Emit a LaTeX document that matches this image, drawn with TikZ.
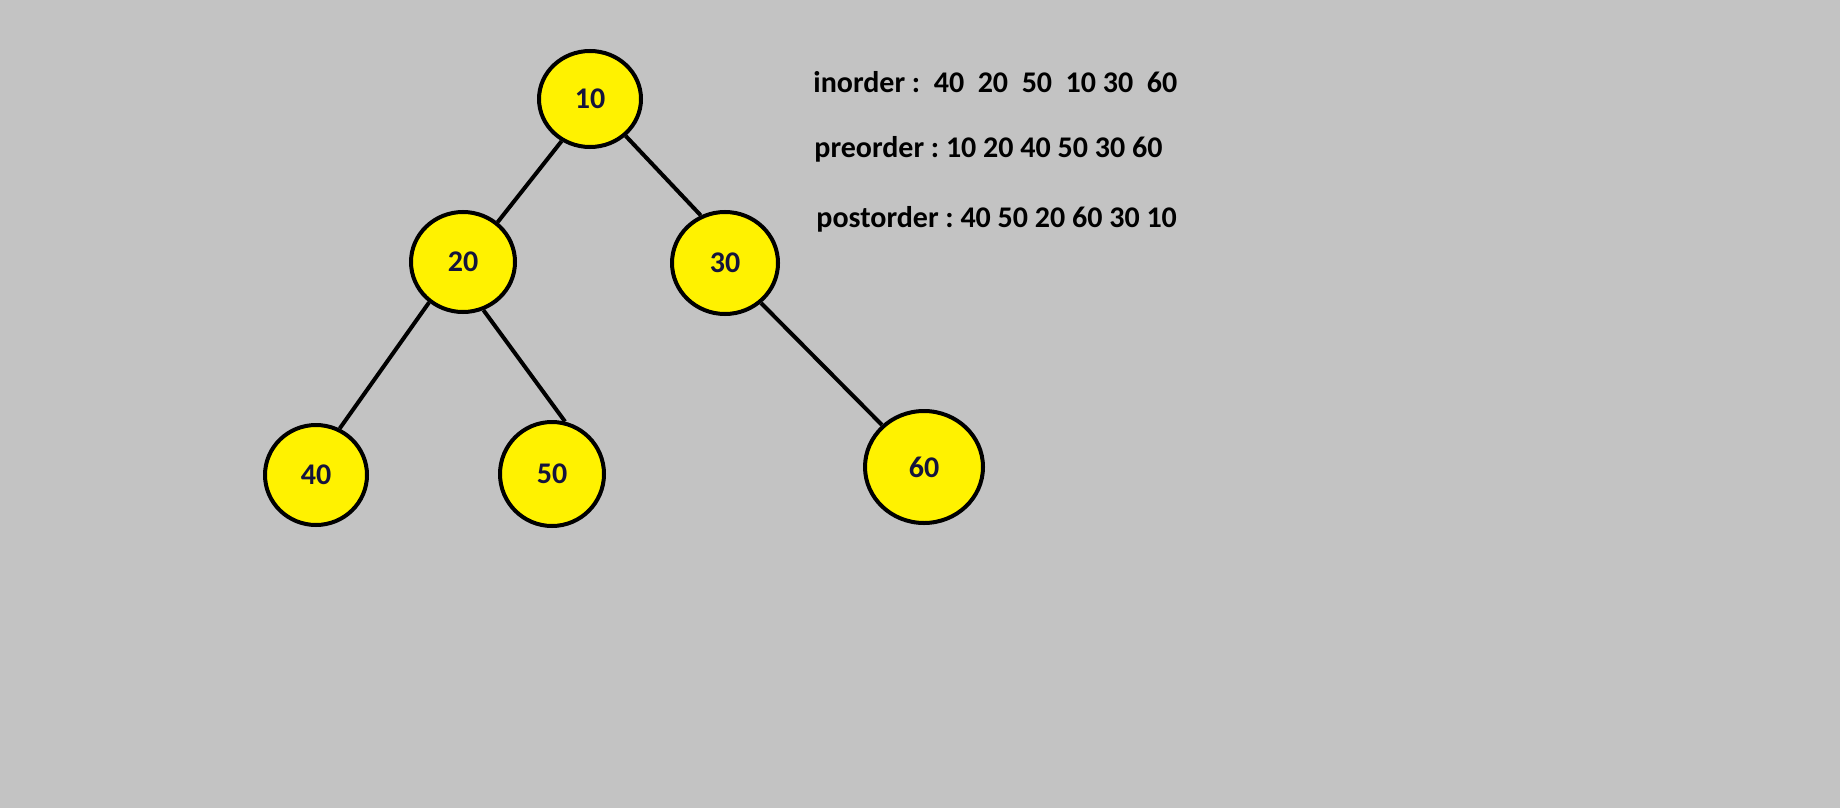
\documentclass[tikz,border=0pt]{standalone}
\usepackage{fontspec}
\setmainfont{Carlito}
\usepackage{tikz}
\usetikzlibrary{shapes.geometric}
\definecolor{canvas}{HTML}{C3C3C3}
\definecolor{nodefill}{HTML}{FFF200}
\definecolor{labelink}{HTML}{14143C}
\frenchspacing

\tikzset{
  treenode/.style={ellipse, draw=black, line width=2pt, fill=nodefill,
    text=labelink, font=\fontsize{15}{18}\selectfont\bfseries,
    minimum width=51pt, minimum height=48pt, inner sep=0pt},
  treeedge/.style={line width=2pt, draw=black},
  ordertext/.style={anchor=base west, inner sep=0pt,
    font=\fontsize{15}{18}\selectfont\bfseries}
}

\begin{document}
\begin{tikzpicture}[x=0.5pt, y=-0.5pt]
\fill[canvas] (0,0) rectangle (1840,808);
\useasboundingbox (0,0) rectangle (1840,808);

% tree
\node[treenode] (n10) at (590,99) {10};
\node[treenode, minimum width=52pt, minimum height=50pt] (n20) at (463,262) {20};
\node[treenode, minimum width=53pt, minimum height=51pt] (n30) at (725,263) {30};
\node[treenode, minimum width=51pt, minimum height=50pt] (n40) at (316,475) {40};
\node[treenode, minimum width=52pt, minimum height=52pt] (n50) at (552,474) {50};
\node[treenode, minimum width=59pt, minimum height=56pt] (n60) at (924,467) {60};

\draw[treeedge] (n10.-124) -- (n20.49);
\draw[treeedge] (n10.-46) -- (n30.117);
\draw[treeedge] (n20.-130) -- (n40.63);
\draw[treeedge] (n20.-67) -- (n50.76);
\draw[treeedge] (n30.-48) -- (n60.135);

% traversals
\node[ordertext] (inorder) at (813,93) {inorder :\ \ 40\ \ 20\ \ 50\ \ 10 30\ \ 60};
\node[ordertext] (preorder) at (814,157) {preorder : 10 20 40 50 30 60};
\node[ordertext] (postorder) at (816,227) {postorder : 40 50 20 60 30 10};
\end{tikzpicture}
\end{document}
